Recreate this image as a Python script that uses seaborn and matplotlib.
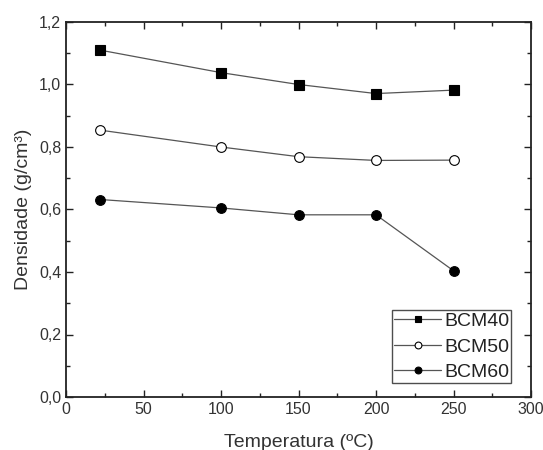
import matplotlib
matplotlib.use("Agg")
import matplotlib.pyplot as plt
import seaborn as sns
import pandas as pd
from matplotlib.ticker import MultipleLocator, FuncFormatter

temperature = [22, 100, 150, 200, 250]
bcm40 = [1.110, 1.038, 1.000, 0.971, 0.982]
bcm50 = [0.854, 0.800, 0.769, 0.757, 0.758]
bcm60 = [0.632, 0.605, 0.583, 0.583, 0.404]
series_names = ["BCM40", "BCM50", "BCM60"]

df = pd.DataFrame({
    "Temperatura": temperature * 3,
    "Densidade": bcm40 + bcm50 + bcm60,
    "Amostra": [n for n in series_names for _ in temperature],
})

sns.set_style("ticks")
plt.rcParams["font.family"] = ["Liberation Sans", "DejaVu Sans"]

fig = plt.figure(figsize=(5.43, 4.5), dpi=100)
ax = fig.add_axes([66 / 543, 1 - 397 / 450, (531 - 66) / 543, (397 - 22) / 450])

styles = {
    "BCM40": dict(marker="s", mfc="black", ms=6.5),
    "BCM50": dict(marker="o", mfc="white", ms=7),
    "BCM60": dict(marker="o", mfc="black", ms=7),
}
for name in series_names:
    sub = df[df["Amostra"] == name]
    st = styles[name]
    sns.lineplot(data=sub, x="Temperatura", y="Densidade", ax=ax, color="#555555",
                 lw=0.9, marker=st["marker"], markersize=st["ms"],
                 markerfacecolor=st["mfc"], markeredgecolor="black",
                 markeredgewidth=0.8, label=name)

ax.set_xlim(0, 300)
ax.set_ylim(0, 1.2)
ax.xaxis.set_major_locator(MultipleLocator(50))
ax.xaxis.set_minor_locator(MultipleLocator(25))
ax.yaxis.set_major_locator(MultipleLocator(0.2))
ax.yaxis.set_minor_locator(MultipleLocator(0.1))
ax.yaxis.set_major_formatter(FuncFormatter(lambda v, p: f"{v:.1f}".replace(".", ",")))
ax.tick_params(which="both", direction="in", top=True, right=True, color="#222222",
               labelsize=11.5, labelcolor="#333333")
ax.tick_params(which="major", length=5, width=1)
ax.tick_params(which="minor", length=3, width=1)
for s in ax.spines.values():
    s.set_linewidth(1.3)
    s.set_color("#222222")

ax.set_xlabel("Temperatura (ºC)", fontsize=14, color="#333333", labelpad=12)
ax.set_ylabel("Densidade (g/cm³)", fontsize=14, color="#333333", labelpad=5)

leg = ax.legend(loc="lower right", bbox_to_anchor=(0.957, 0.037), fontsize=14,
                frameon=True, fancybox=False, markerscale=0.7,
                borderpad=0.1, labelspacing=0.41, handlelength=2.4,
                handletextpad=0.15, borderaxespad=0.0)
leg.get_frame().set_edgecolor("#222222")
leg.get_frame().set_linewidth(1.0)
for t in leg.get_texts():
    t.set_color("#222222")

fig.savefig("out.png", dpi=100)
